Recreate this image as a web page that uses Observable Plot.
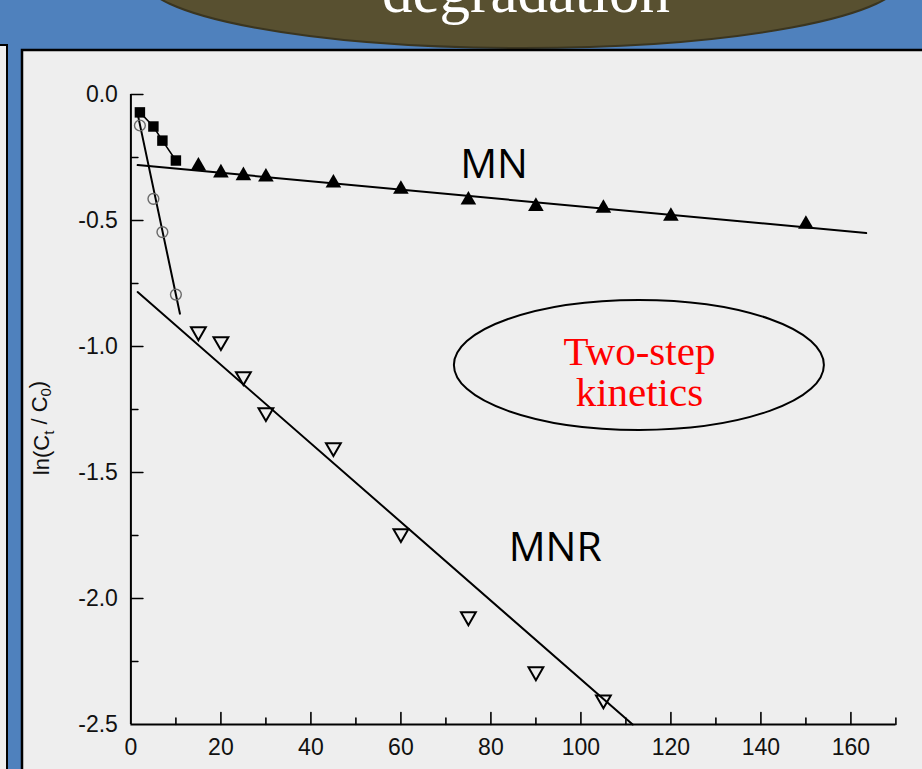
<!DOCTYPE html>
<html><head><meta charset="utf-8">
<script src="https://cdn.jsdelivr.net/npm/d3@7"></script>
<script src="https://cdn.jsdelivr.net/npm/@observablehq/plot@0.6"></script>
<style>
html,body{margin:0;padding:0;width:922px;height:769px;overflow:hidden;background:#4f81bd;}
#bg{position:absolute;left:0;top:0;}
#chart{position:absolute;left:0;top:0;}
</style></head><body>
<svg id="bg" width="922" height="769">
  <ellipse cx="523" cy="-22" rx="380" ry="70" fill="#585030" stroke="#3a3520" stroke-width="2"/>
  <text x="526" y="12" text-anchor="middle" font-family="Liberation Serif, serif" font-size="61" fill="#ffffff">degradation</text>
  <rect x="-10" y="45" width="17" height="800" fill="#eeeeee" stroke="#000" stroke-width="2"/>
  <rect x="22" y="50" width="920" height="800" fill="#eeeeee" stroke="#000" stroke-width="2.5"/>
</svg>
<div id="chart"></div>
<script>
// ---- data ----
const tFirst = [2, 5, 7, 10];
const mnFirst = [-0.071, -0.127, -0.183, -0.262];      // MN, first step (filled squares)
const mnrFirst = [-0.123, -0.414, -0.546, -0.794];     // MNR, first step (open circles)
const tMNSecond = [15, 20, 25, 30, 45, 60, 75, 90, 105, 120, 150];
const mnSecond = [-0.284, -0.311, -0.322, -0.327, -0.351, -0.376, -0.419, -0.444, -0.451, -0.483, -0.515];
const tMNRSecond = [15, 20, 25, 30, 45, 60, 75, 90, 105];
const mnrSecond = [-0.941, -0.980, -1.119, -1.262, -1.401, -1.742, -2.072, -2.290, -2.402];
// fitted lines (end points)
const fitMNt = [1.5, 163.4], fitMNy = [-0.280, -0.550];
const fitMNRt = [1.5, 111.5], fitMNRy = [-0.784, -2.5];
const fitCt = [1.3, 10.9], fitCy = [-0.060, -0.870];
// ticks
const xTicks = [0, 20, 40, 60, 80, 100, 120, 140, 160];
const xMajorTicks = [20, 40, 60, 80, 100, 120, 140, 160];
const xMinorTicks = [10, 30, 50, 70, 90, 110, 130, 150, 170];
const yTicks = [0, -0.5, -1, -1.5, -2, -2.5];
const yMajorTicks = [0, -0.5, -1, -1.5, -2];
const yMinorTicks = [-0.25, -0.75, -1.25, -1.75, -2.25];
// labels
const seriesLabels = ["MN", "MNR"];
const seriesLabelT = [80.7, 94.3];
const seriesLabelY = [-0.333, -1.853];
const noteText = ["Two-step\nkinetics"];
const noteT = [113], noteY = [-1.238];
const ellipseCenter = {t: 113, y: -1.075};

const tickShape = {draw(ctx, l) { ctx.moveTo(0, 0); ctx.lineTo(0, -l); }};
const sqrt3 = Math.sqrt(3);
const triangleDown = {draw(ctx, size) {
  const y = Math.sqrt(size / (sqrt3 * 3));
  ctx.moveTo(0, 2 * y);
  ctx.lineTo(-sqrt3 * y, -y);
  ctx.lineTo(sqrt3 * y, -y);
  ctx.closePath();
}};

const font = "Liberation Sans, Arial, sans-serif";
const plot = Plot.plot({
  width: 922, height: 769,
  marginLeft: 130.4, marginRight: 26.6, marginTop: 94, marginBottom: 45,
  style: {background: "transparent", fontFamily: font, color: "#000", overflow: "visible"},
  x: {domain: [0, 170]},
  y: {domain: [-2.5, 0]},
  marks: [
    Plot.axisX({ticks: xTicks, tickSize: 0, tickPadding: 14, fontSize: 23, label: null, fill: "#111"}),
    Plot.axisY({ticks: yTicks, tickSize: 0, tickPadding: 13, fontSize: 23, label: null, fill: "#111",
      tickFormat: d => d.toFixed(1)}),
    Plot.vector(xMajorTicks, {x: d => d, frameAnchor: "bottom", length: 12, rotate: 0, anchor: "start", shape: tickShape, stroke: "#000", strokeWidth: 1.6}),
    Plot.vector(xMinorTicks, {x: d => d, frameAnchor: "bottom", length: 6.5, rotate: 0, anchor: "start", shape: tickShape, stroke: "#000", strokeWidth: 1.6}),
    Plot.vector(yMajorTicks, {y: d => d, frameAnchor: "left", length: 12, rotate: 90, anchor: "start", shape: tickShape, stroke: "#000", strokeWidth: 1.6}),
    Plot.vector(yMinorTicks, {y: d => d, frameAnchor: "left", length: 7, rotate: 90, anchor: "start", shape: tickShape, stroke: "#000", strokeWidth: 1.6}),
    Plot.ruleX([0], {stroke: "#000", strokeWidth: 2}),
    Plot.ruleY([-2.5], {stroke: "#000", strokeWidth: 2}),
    Plot.line(fitMNt, {x: fitMNt, y: fitMNy, stroke: "#000", strokeWidth: 2}),
    Plot.line(fitMNRt, {x: fitMNRt, y: fitMNRy, stroke: "#000", strokeWidth: 2}),
    Plot.line(fitCt, {x: fitCt, y: fitCy, stroke: "#000", strokeWidth: 2}),
    Plot.line(tFirst, {x: tFirst, y: mnFirst, stroke: "#000", strokeWidth: 1.5}),
    Plot.dot(tFirst, {x: tFirst, y: mnFirst, symbol: "square", r: 5.9, fill: "#000", stroke: null}),
    Plot.dot(tFirst, {x: tFirst, y: mnrFirst, symbol: "circle", r: 5.4, fill: "none", stroke: "#6a6a6a", strokeWidth: 1.4}),
    Plot.dot(tMNSecond, {x: tMNSecond, y: mnSecond, symbol: "triangle", r: 5.8, fill: "#000", stroke: null}),
    Plot.dot(tMNRSecond, {x: tMNRSecond, y: mnrSecond, symbol: triangleDown, r: 5.5, fill: "none", stroke: "#000", strokeWidth: 2}),
    Plot.text(seriesLabels, {x: seriesLabelT, y: seriesLabelY, text: d => d, fontFamily: "Open Sans, sans-serif", fontSize: 41, lineAnchor: "bottom", textAnchor: "middle", fill: "#000"}),
    Plot.text(noteText, {x: noteT, y: noteY, text: d => d, fontFamily: "Liberation Serif, serif", fontSize: 41, lineHeight: 1.0, lineAnchor: "bottom", textAnchor: "middle", fill: "#ff0000"})
  ]
});
document.getElementById("chart").appendChild(plot);

const svg = d3.select(plot);
const sx = plot.scale("x"), sy = plot.scale("y");
svg.append("ellipse")
  .attr("cx", sx.apply(ellipseCenter.t)).attr("cy", sy.apply(ellipseCenter.y))
  .attr("rx", 185).attr("ry", 65)
  .attr("fill", "none").attr("stroke", "#000").attr("stroke-width", 2);

const yl = svg.append("text")
  .attr("transform", "translate(49,428) rotate(-90)")
  .attr("text-anchor", "middle")
  .attr("font-family", font).attr("font-size", 22).attr("fill", "#111");
yl.append("tspan").text("ln(C");
yl.append("tspan").attr("dy", "0.3em").attr("font-size", 15).text("t");
yl.append("tspan").attr("dy", "-0.3em").text(" / C");
yl.append("tspan").attr("dy", "0.3em").attr("font-size", 15).text("0");
yl.append("tspan").attr("dy", "-0.3em").text(")");
</script>
</body></html>
